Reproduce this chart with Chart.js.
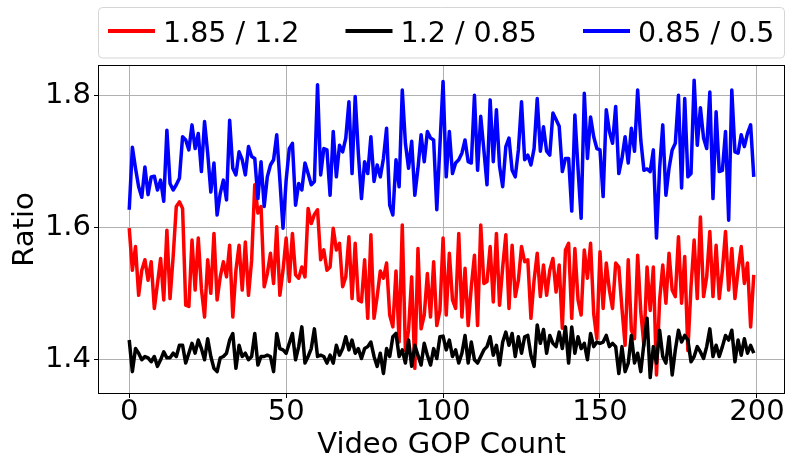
<!DOCTYPE html>
<html>
<head>
<meta charset="utf-8">
<title>GOP ratio</title>
<script src="https://cdn.jsdelivr.net/npm/chart.js@4.4.1/dist/chart.umd.min.js"></script>
<style>
  html, body { margin: 0; padding: 0; background: #fff; }
  canvas { display: block; }
</style>
</head>
<body>
<canvas id="ratioChart" width="786" height="463"></canvas>
<script>
// series labels, colours and per-GOP ratio values
const seriesLabels = ["1.85 / 1.2", "1.2 / 0.85", "0.85 / 0.5"];
const seriesColors = ["#ff0000", "#000000", "#0000ff"];

const ratioHigh = [
  1.599, 1.535, 1.571, 1.497, 1.535, 1.551, 1.520, 1.548, 1.477, 1.515,
  1.553, 1.490, 1.596, 1.492, 1.556, 1.632, 1.639, 1.629, 1.482, 1.480,
  1.581, 1.505, 1.584, 1.507, 1.464, 1.551, 1.500, 1.591, 1.490, 1.525,
  1.548, 1.525, 1.573, 1.464, 1.535, 1.573, 1.505, 1.578, 1.497, 1.550,
  1.665, 1.622, 1.632, 1.510, 1.530, 1.561, 1.515, 1.601, 1.497, 1.535,
  1.584, 1.518, 1.591, 1.528, 1.523, 1.540, 1.525, 1.629, 1.606, 1.620,
  1.627, 1.551, 1.566, 1.535, 1.540, 1.599, 1.566, 1.576, 1.510, 1.525,
  1.586, 1.492, 1.576, 1.490, 1.487, 1.551, 1.462, 1.589, 1.462, 1.495,
  1.534, 1.523, 1.546, 1.467, 1.449, 1.534, 1.426, 1.604, 1.413, 1.444,
  1.525, 1.386, 1.568, 1.446, 1.467, 1.530, 1.464, 1.548, 1.451, 1.474,
  1.584, 1.467, 1.561, 1.490, 1.477, 1.591, 1.464, 1.538, 1.451, 1.510,
  1.558, 1.451, 1.604, 1.515, 1.518, 1.571, 1.487, 1.591, 1.482, 1.540,
  1.589, 1.477, 1.573, 1.495, 1.520, 1.571, 1.548, 1.551, 1.462, 1.520,
  1.561, 1.495, 1.543, 1.497, 1.535, 1.553, 1.502, 1.543, 1.447, 1.566,
  1.576, 1.462, 1.568, 1.490, 1.467, 1.566, 1.523, 1.576, 1.469, 1.431,
  1.563, 1.477, 1.546, 1.505, 1.477, 1.546, 1.540, 1.477, 1.421, 1.551,
  1.444, 1.431, 1.558, 1.472, 1.421, 1.540, 1.474, 1.540, 1.376, 1.490,
  1.543, 1.485, 1.561, 1.505, 1.495, 1.586, 1.485, 1.556, 1.413, 1.510,
  1.581, 1.492, 1.616, 1.495, 1.525, 1.594, 1.495, 1.573, 1.492, 1.535,
  1.594, 1.505, 1.568, 1.492, 1.535, 1.571, 1.515, 1.546, 1.449, 1.528
];

const ratioMid = [
  1.429, 1.381, 1.416, 1.409, 1.399, 1.404, 1.402, 1.396, 1.404, 1.389,
  1.399, 1.411, 1.402, 1.402, 1.409, 1.404, 1.421, 1.421, 1.394, 1.409,
  1.424, 1.409, 1.429, 1.416, 1.399, 1.431, 1.404, 1.386, 1.381, 1.402,
  1.404, 1.409, 1.429, 1.439, 1.386, 1.421, 1.404, 1.409, 1.399, 1.404,
  1.439, 1.391, 1.404, 1.404, 1.406, 1.404, 1.381, 1.439, 1.416, 1.414,
  1.409, 1.424, 1.439, 1.399, 1.419, 1.449, 1.394, 1.404, 1.416, 1.446,
  1.404, 1.406, 1.404, 1.394, 1.406, 1.394, 1.421, 1.406, 1.416, 1.434,
  1.414, 1.429, 1.409, 1.416, 1.401, 1.416, 1.419, 1.426, 1.404, 1.389,
  1.409, 1.378, 1.416, 1.404, 1.434, 1.439, 1.404, 1.414, 1.394, 1.429,
  1.389, 1.421, 1.406, 1.391, 1.424, 1.406, 1.391, 1.416, 1.401, 1.434,
  1.435, 1.414, 1.429, 1.404, 1.414, 1.394, 1.409, 1.436, 1.394, 1.426,
  1.399, 1.394, 1.404, 1.414, 1.419, 1.434, 1.406, 1.421, 1.391, 1.426,
  1.441, 1.421, 1.439, 1.404, 1.434, 1.409, 1.434, 1.436, 1.406, 1.389,
  1.452, 1.424, 1.445, 1.409, 1.436, 1.424, 1.419, 1.441, 1.416, 1.449,
  1.394, 1.449, 1.409, 1.434, 1.416, 1.424, 1.399, 1.439, 1.419, 1.426,
  1.424, 1.426, 1.436, 1.419, 1.424, 1.419, 1.378, 1.419, 1.381, 1.394,
  1.436, 1.394, 1.409, 1.381, 1.424, 1.462, 1.372, 1.419, 1.394, 1.444,
  1.404, 1.394, 1.434, 1.376, 1.414, 1.444, 1.426, 1.436, 1.429, 1.396,
  1.404, 1.419, 1.411, 1.401, 1.419, 1.446, 1.404, 1.421, 1.404, 1.419,
  1.436, 1.429, 1.444, 1.396, 1.429, 1.406, 1.431, 1.409, 1.421, 1.409
];

const ratioLow = [
  1.627, 1.722, 1.690, 1.662, 1.646, 1.692, 1.650, 1.677, 1.678, 1.657,
  1.672, 1.640, 1.748, 1.667, 1.657, 1.665, 1.675, 1.738, 1.733, 1.718,
  1.756, 1.720, 1.743, 1.685, 1.761, 1.713, 1.654, 1.698, 1.619, 1.652,
  1.672, 1.642, 1.763, 1.690, 1.680, 1.715, 1.703, 1.680, 1.723, 1.708,
  1.705, 1.644, 1.700, 1.632, 1.677, 1.695, 1.703, 1.741, 1.672, 1.599,
  1.672, 1.720, 1.728, 1.634, 1.667, 1.657, 1.698, 1.682, 1.665, 1.670,
  1.817, 1.680, 1.720, 1.718, 1.649, 1.746, 1.677, 1.725, 1.715, 1.736,
  1.791, 1.682, 1.799, 1.713, 1.644, 1.700, 1.682, 1.738, 1.670, 1.695,
  1.677, 1.705, 1.751, 1.634, 1.619, 1.703, 1.662, 1.809, 1.728, 1.690,
  1.731, 1.649, 1.690, 1.741, 1.700, 1.746, 1.736, 1.733, 1.627, 1.725,
  1.822, 1.677, 1.746, 1.682, 1.698, 1.703, 1.713, 1.733, 1.700, 1.698,
  1.801, 1.687, 1.769, 1.718, 1.665, 1.794, 1.700, 1.779, 1.693, 1.662,
  1.723, 1.736, 1.687, 1.677, 1.718, 1.791, 1.703, 1.710, 1.695, 1.720,
  1.796, 1.716, 1.753, 1.716, 1.710, 1.774, 1.764, 1.754, 1.685, 1.705,
  1.705, 1.625, 1.771, 1.690, 1.614, 1.804, 1.705, 1.768, 1.738, 1.720,
  1.718, 1.647, 1.779, 1.746, 1.728, 1.784, 1.682, 1.705, 1.738, 1.698,
  1.751, 1.716, 1.809, 1.733, 1.687, 1.689, 1.685, 1.718, 1.584, 1.690,
  1.756, 1.649, 1.690, 1.718, 1.728, 1.801, 1.660, 1.796, 1.677, 1.682,
  1.824, 1.725, 1.782, 1.736, 1.720, 1.806, 1.644, 1.776, 1.685, 1.687,
  1.746, 1.611, 1.809, 1.715, 1.713, 1.741, 1.723, 1.743, 1.756, 1.677
];

const seriesValues = [ratioHigh, ratioMid, ratioLow];
const gopIndex = ratioHigh.map((_, i) => i);

const xTicks = [0, 50, 100, 150, 200];
const yTicks = [1.4, 1.6, 1.8];

const FONT = "DejaVu Sans";

// boxed legend in the strip above the plot
const boxedLegend = {
  id: "boxedLegend",
  afterDraw(chart) {
    const { ctx, chartArea } = chart;
    const top = 7.5, bottom = 58, left = chartArea.left + 0.5, right = chartArea.right - 0.5;
    ctx.save();
    ctx.beginPath();
    ctx.roundRect(left, top, right - left, bottom - top, 4);
    ctx.fillStyle = "rgba(255,255,255,0.8)";
    ctx.fill();
    ctx.strokeStyle = "#d5d5d5";
    ctx.lineWidth = 1;
    ctx.stroke();

    ctx.font = "28.5px '" + FONT + "'";
    ctx.textBaseline = "alphabetic";
    ctx.fillStyle = "#000";
    let x = 108;
    chart.data.datasets.forEach((ds) => {
      ctx.beginPath();
      ctx.moveTo(x, 31);
      ctx.lineTo(x + 47, 31);
      ctx.strokeStyle = ds.borderColor;
      ctx.lineWidth = 4;
      ctx.stroke();
      ctx.fillText(ds.label, x + 55, 42);
      x += 55 + ctx.measureText(ds.label).width + 46;
    });
    ctx.restore();
  }
};

// axes frame on all four sides
const axesFrame = {
  id: "axesFrame",
  afterDatasetsDraw(chart) {
    const { ctx, chartArea: a } = chart;
    ctx.save();
    ctx.strokeStyle = "#000";
    ctx.lineWidth = 1;
    ctx.strokeRect(a.left + 0.5, a.top + 0.5, a.right - a.left - 1, a.bottom - a.top - 1);
    ctx.restore();
  }
};

const datasets = seriesLabels.map((label, s) => ({
  label: label,
  data: seriesValues[s].map((v, i) => ({ x: gopIndex[i], y: v })),
  borderColor: seriesColors[s],
  backgroundColor: seriesColors[s],
  borderWidth: 3.5,
  borderJoinStyle: "round",
  pointRadius: 0,
  tension: 0,
  fill: false,
  order: seriesLabels.length - s
}));

new Chart(document.getElementById("ratioChart"), {
  type: "line",
  data: { datasets },
  options: {
    responsive: false,
    animation: false,
    layout: { padding: { top: 65, right: 1, left: 0, bottom: 0 } },
    plugins: {
      legend: { display: false },
      tooltip: { enabled: false }
    },
    scales: {
      x: {
        type: "linear",
        min: -9.95,
        max: 208.95,
        afterBuildTicks: (scale) => { scale.ticks = xTicks.map((v) => ({ value: v })); },
        afterFit: (scale) => { scale.height = 69; },
        grid: { color: "#b0b0b0", lineWidth: 1, tickColor: "#000", tickLength: 4 },
        border: { display: false },
        ticks: {
          color: "#000",
          padding: 0,
          maxRotation: 0,
          font: { family: FONT, size: 29, lineHeight: 1 },
          callback: (v) => String(v)
        },
        title: {
          display: true,
          text: "Video GOP Count",
          color: "#000",
          padding: { top: 0, bottom: 3.5 },
          font: { family: FONT, size: 29, lineHeight: 1 }
        }
      },
      y: {
        min: 1.347,
        max: 1.847,
        afterBuildTicks: (scale) => { scale.ticks = yTicks.map((v) => ({ value: v })); },
        afterFit: (scale) => { scale.width = 98; },
        grid: { color: "#b0b0b0", lineWidth: 1, tickColor: "#000", tickLength: 4 },
        border: { display: false },
        ticks: {
          color: "#000",
          padding: 3,
          font: { family: FONT, size: 29, lineHeight: 1 },
          callback: (v) => v.toFixed(1)
        },
        title: {
          display: true,
          text: "Ratio",
          color: "#000",
          padding: { top: 10.5, bottom: 0 },
          font: { family: FONT, size: 29, lineHeight: 1 }
        }
      }
    }
  },
  plugins: [boxedLegend, axesFrame]
});
</script>
</body>
</html>
